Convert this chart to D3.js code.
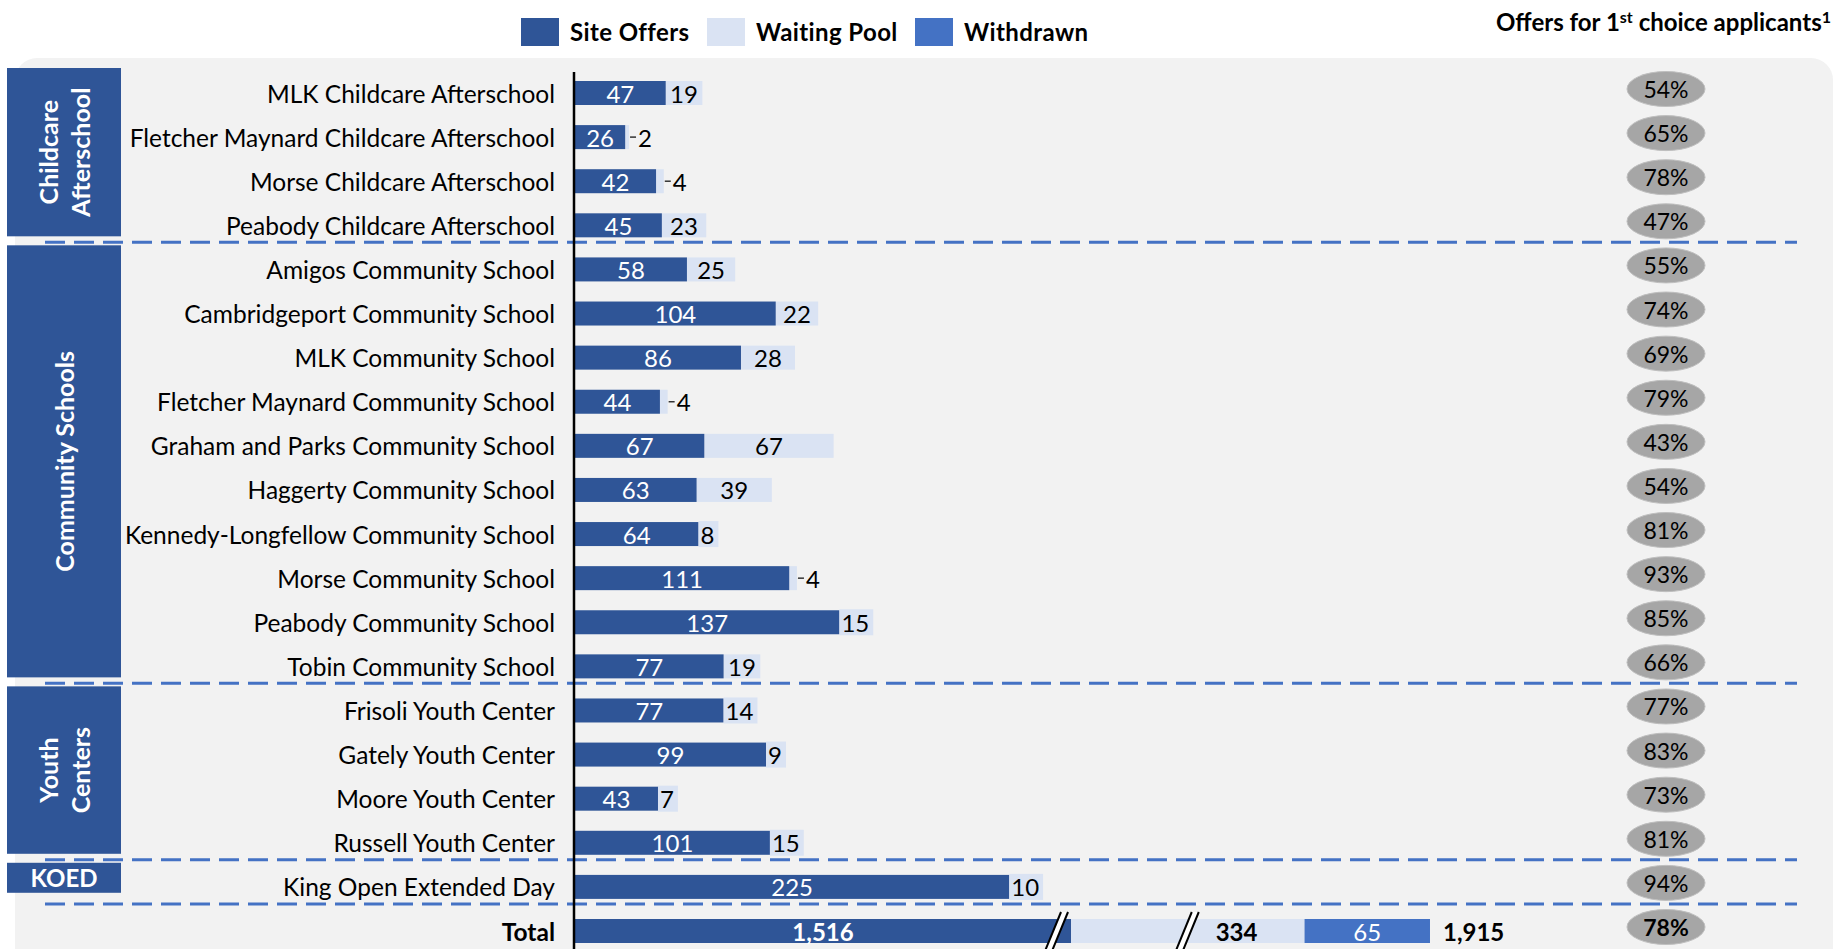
<!DOCTYPE html>
<html>
<head>
<meta charset="utf-8">
<script src="https://cdn.jsdelivr.net/npm/d3@7"></script>
<style>
  body { margin: 0; background: #fff; }
  svg { display: block; font-family: Lato, "Open Sans", sans-serif; }
</style>
</head>
<body>
<div id="chart"></div>
<script>

// Data
var groups = ['Childcare Afterschool', 'Community Schools', 'Youth Centers', 'KOED'];
var groupLines = [['Childcare', 'Afterschool'], ['Community Schools'], ['Youth', 'Centers'], ['KOED']];

var sites = [
  'MLK Childcare Afterschool', 'Fletcher Maynard Childcare Afterschool', 'Morse Childcare Afterschool', 'Peabody Childcare Afterschool',
  'Amigos Community School', 'Cambridgeport Community School', 'MLK Community School', 'Fletcher Maynard Community School',
  'Graham and Parks Community School', 'Haggerty Community School', 'Kennedy-Longfellow Community School', 'Morse Community School',
  'Peabody Community School', 'Tobin Community School',
  'Frisoli Youth Center', 'Gately Youth Center', 'Moore Youth Center', 'Russell Youth Center',
  'King Open Extended Day'
];
var siteGroup = [0, 0, 0, 0, 1, 1, 1, 1, 1, 1, 1, 1, 1, 1, 2, 2, 2, 2, 3];
var siteOffers = [47, 26, 42, 45, 58, 104, 86, 44, 67, 63, 64, 111, 137, 77, 77, 99, 43, 101, 225];
var waitingPool = [19, 2, 4, 23, 25, 22, 28, 4, 67, 39, 8, 4, 15, 19, 14, 9, 7, 15, 10];
var firstChoicePct = [54, 65, 78, 47, 55, 74, 69, 79, 43, 54, 81, 93, 85, 66, 77, 83, 73, 81, 94];

var totalOffers = 1516;
var totalWaiting = 334;
var totalWithdrawn = 65;
var totalAll = 1915;
var totalPct = 78;

var legendKeys = ['Site Offers', 'Waiting Pool', 'Withdrawn'];

// Colours
var cOffers = '#2F5597', cWaiting = '#DAE3F3', cWithdrawn = '#4472C4';
var colors = [cOffers, cWaiting, cWithdrawn];

var W = 1839, H = 949;
var barH = 24;
var fs = 24; // main text size
var fmt = d3.format(',');

var svg = d3.select('#chart').append('svg')
  .attr('width', W)
  .attr('height', H);

// Grey panel
svg.append('rect')
  .attr('x', 15).attr('y', 58)
  .attr('width', 1818).attr('height', 960)
  .attr('rx', 22)
  .attr('fill', '#F2F2F2');

// Scales
var x = d3.scaleLinear().domain([0, 100]).range([575, 768]);
var rows = sites.concat(['Total']);
var y = d3.scalePoint().domain(rows).range([93, 931]);

// Legend
var legend = svg.append('g');
var legX = [521, 707, 915];
legendKeys.forEach(function (k, i) {
  legend.append('rect')
    .attr('x', legX[i]).attr('y', 18)
    .attr('width', 38).attr('height', 28)
    .attr('fill', colors[i]);
  legend.append('text')
    .attr('x', legX[i] + 49).attr('y', 41)
    .attr('font-size', 24).attr('font-weight', 'bold')
    .attr('letter-spacing', 0.4)
    .text(k);
});

// Header on the right
var head = svg.append('text')
  .attr('x', 1831).attr('y', 31)
  .attr('text-anchor', 'end')
  .attr('font-size', 24).attr('font-weight', 'bold');
head.append('tspan').text('Offers for 1');
head.append('tspan').attr('dy', -8).attr('font-size', 16).text('st');
head.append('tspan').attr('dy', 8).text(' choice applicants');
head.append('tspan').attr('dy', -8).attr('font-size', 16).text('1');

// Group separators (after the last row of each group)
var sepY = [];
groups.forEach(function (g, gi) {
  var last = d3.max(d3.range(sites.length).filter(function (i) { return siteGroup[i] === gi; }));
  sepY.push(y(sites[last]) + 17);
});

// Group boxes
groups.forEach(function (g, gi) {
  var idx = d3.range(sites.length).filter(function (i) { return siteGroup[i] === gi; });
  var top = gi === 0 ? y(sites[idx[0]]) - 25 : sepY[gi - 1] + 3;
  var bottom = sepY[gi] - 6;
  if (idx.length === 1) bottom = top + 30;
  svg.append('rect')
    .attr('x', 7).attr('y', top)
    .attr('width', 114).attr('height', bottom - top)
    .attr('fill', cOffers);
  var lines = groupLines[gi];
  var cx = 64, cy = (top + bottom) / 2;
  if (idx.length === 1) {
    svg.append('text')
      .attr('x', cx).attr('y', cy)
      .attr('text-anchor', 'middle').attr('dominant-baseline', 'central')
      .attr('font-size', 24).attr('font-weight', 'bold').attr('fill', '#fff')
      .text(lines[0]);
  } else {
    lines.forEach(function (ln, li) {
      var off = (li - (lines.length - 1) / 2) * 32;
      svg.append('text')
        .attr('transform', 'translate(' + (cx + off) + ',' + cy + ') rotate(-90)')
        .attr('text-anchor', 'middle').attr('dominant-baseline', 'central')
        .attr('font-size', 25).attr('font-weight', 'bold').attr('fill', '#fff')
        .text(ln);
    });
  }
});

// Dashed separators
svg.append('g').selectAll('line')
  .data(sepY)
  .enter().append('line')
  .attr('x1', 45).attr('x2', 1797)
  .attr('y1', function (d) { return d; })
  .attr('y2', function (d) { return d; })
  .attr('stroke', cWithdrawn)
  .attr('stroke-width', 3)
  .attr('stroke-dasharray', '20,9');

// Row labels
svg.append('g').selectAll('text')
  .data(rows)
  .enter().append('text')
  .attr('x', 555)
  .attr('y', function (d) { return y(d); })
  .attr('text-anchor', 'end').attr('dominant-baseline', 'central')
  .attr('font-size', 24.5)
  .attr('font-weight', function (d) { return d === 'Total' ? 'bold' : 'normal'; })
  .text(function (d) { return d; });

// Site bars
var siteData = sites.map(function (s, i) {
  return { name: s, offers: siteOffers[i], waiting: waitingPool[i], pct: firstChoicePct[i] };
});

var bars = svg.append('g');

bars.selectAll('.bar-wait')
  .data(siteData)
  .enter().append('rect')
  .attr('class', 'bar-wait')
  .attr('x', function (d) { return x(d.offers); })
  .attr('y', function (d) { return y(d.name) - barH / 2; })
  .attr('width', function (d) { return x(d.offers + d.waiting) - x(d.offers); })
  .attr('height', barH)
  .attr('fill', cWaiting);

bars.selectAll('.bar-offer')
  .data(siteData)
  .enter().append('rect')
  .attr('class', 'bar-offer')
  .attr('x', x(0))
  .attr('y', function (d) { return y(d.name) - barH / 2; })
  .attr('width', function (d) { return x(d.offers) - x(0); })
  .attr('height', barH)
  .attr('fill', cOffers);

bars.selectAll('.lbl-offer')
  .data(siteData)
  .enter().append('text')
  .attr('class', 'lbl-offer')
  .attr('x', function (d) { return (x(0) + x(d.offers)) / 2; })
  .attr('y', function (d) { return y(d.name); })
  .attr('text-anchor', 'middle').attr('dominant-baseline', 'central')
  .attr('font-size', fs).attr('fill', '#fff')
  .text(function (d) { return d.offers; });

// Waiting pool labels: centred when they fit, otherwise boxed or with a leader
siteData.forEach(function (d) {
  var x0 = x(d.offers), x1 = x(d.offers + d.waiting), cy = y(d.name);
  var t = bars.append('text')
    .attr('y', cy)
    .attr('dominant-baseline', 'central')
    .attr('font-size', fs).attr('fill', '#000')
    .text(d.waiting);
  var tw = t.node().getComputedTextLength();
  if (d.waiting <= 4) {
    bars.append('line')
      .attr('x1', x1 + 1).attr('x2', x1 + 7)
      .attr('y1', cy).attr('y2', cy)
      .attr('stroke', '#333').attr('stroke-width', 1.5);
    t.attr('x', x1 + 9);
  } else if (tw + 6 <= x1 - x0) {
    t.attr('x', (x0 + x1) / 2).attr('text-anchor', 'middle');
  } else {
    bars.insert('rect', function () { return t.node(); })
      .attr('x', x0).attr('y', cy - 13)
      .attr('width', Math.max(x1 - x0, tw + 6)).attr('height', 26)
      .attr('fill', cWaiting);
    t.attr('x', x0 + 2);
  }
});

// Total row, with a broken axis for offers and waiting pool
var shownOffers = 257, shownWaiting = 121; // display lengths (data units) past the breaks
var ty = y('Total');
var tOffEnd = x(shownOffers);
var tWaitEnd = x(shownOffers + shownWaiting);
var tWdEnd = tWaitEnd + (x(totalWithdrawn) - x(0));

var tot = svg.append('g');
tot.append('rect').attr('x', x(0)).attr('y', ty - barH / 2)
  .attr('width', tOffEnd - x(0)).attr('height', barH).attr('fill', cOffers);
tot.append('rect').attr('x', tOffEnd).attr('y', ty - barH / 2)
  .attr('width', tWaitEnd - tOffEnd).attr('height', barH).attr('fill', cWaiting);
tot.append('rect').attr('x', tWaitEnd).attr('y', ty - barH / 2)
  .attr('width', tWdEnd - tWaitEnd).attr('height', barH).attr('fill', cWithdrawn);

tot.append('text')
  .attr('x', (x(0) + tOffEnd) / 2).attr('y', ty)
  .attr('text-anchor', 'middle').attr('dominant-baseline', 'central')
  .attr('font-size', fs).attr('font-weight', 'bold').attr('fill', '#fff')
  .text(fmt(totalOffers));
tot.append('text')
  .attr('x', tWaitEnd - 68).attr('y', ty)
  .attr('text-anchor', 'middle').attr('dominant-baseline', 'central')
  .attr('font-size', fs).attr('font-weight', 'bold')
  .text(fmt(totalWaiting));
tot.append('text')
  .attr('x', (tWaitEnd + tWdEnd) / 2).attr('y', ty)
  .attr('text-anchor', 'middle').attr('dominant-baseline', 'central')
  .attr('font-size', fs).attr('fill', '#fff')
  .text(fmt(totalWithdrawn));
tot.append('text')
  .attr('x', tWdEnd + 13).attr('y', ty)
  .attr('dominant-baseline', 'central')
  .attr('font-size', fs).attr('font-weight', 'bold')
  .text(fmt(totalAll));

// break marks
function breakMark(cx) {
  var yt = ty - 19, yb = ty + 20, s = 8, gap = 7;
  tot.append('polygon')
    .attr('points', [[cx - s, yb], [cx - s + gap, yb], [cx + s + gap, yt], [cx + s, yt]].join(' '))
    .attr('fill', '#fff');
  [0, gap].forEach(function (o) {
    tot.append('line')
      .attr('x1', cx - s + o).attr('y1', yb)
      .attr('x2', cx + s + o).attr('y2', yt)
      .attr('stroke', '#000').attr('stroke-width', 2);
  });
}
breakMark(tOffEnd - 18);
breakMark((tOffEnd + tWaitEnd) / 2 - 4);

// Axis line
svg.append('line')
  .attr('x1', 574).attr('x2', 574)
  .attr('y1', 72).attr('y2', H)
  .attr('stroke', '#000').attr('stroke-width', 2.5);

// First choice percentages
var pctData = siteData.map(function (d) { return { name: d.name, pct: d.pct, bold: false }; })
  .concat([{ name: 'Total', pct: totalPct, bold: true }]);

var pg = svg.append('g').selectAll('g')
  .data(pctData)
  .enter().append('g')
  .attr('transform', function (d) { return 'translate(1666,' + (y(d.name) - 4) + ')'; });
pg.append('ellipse')
  .attr('rx', 39).attr('ry', 17.5)
  .attr('fill', '#A6A6A6').attr('stroke', '#BFBFBF').attr('stroke-width', 1);
pg.append('text')
  .attr('text-anchor', 'middle').attr('dominant-baseline', 'central')
  .attr('font-size', 23)
  .attr('font-weight', function (d) { return d.bold ? 'bold' : 'normal'; })
  .text(function (d) { return d.pct + '%'; });

</script>
</body>
</html>
